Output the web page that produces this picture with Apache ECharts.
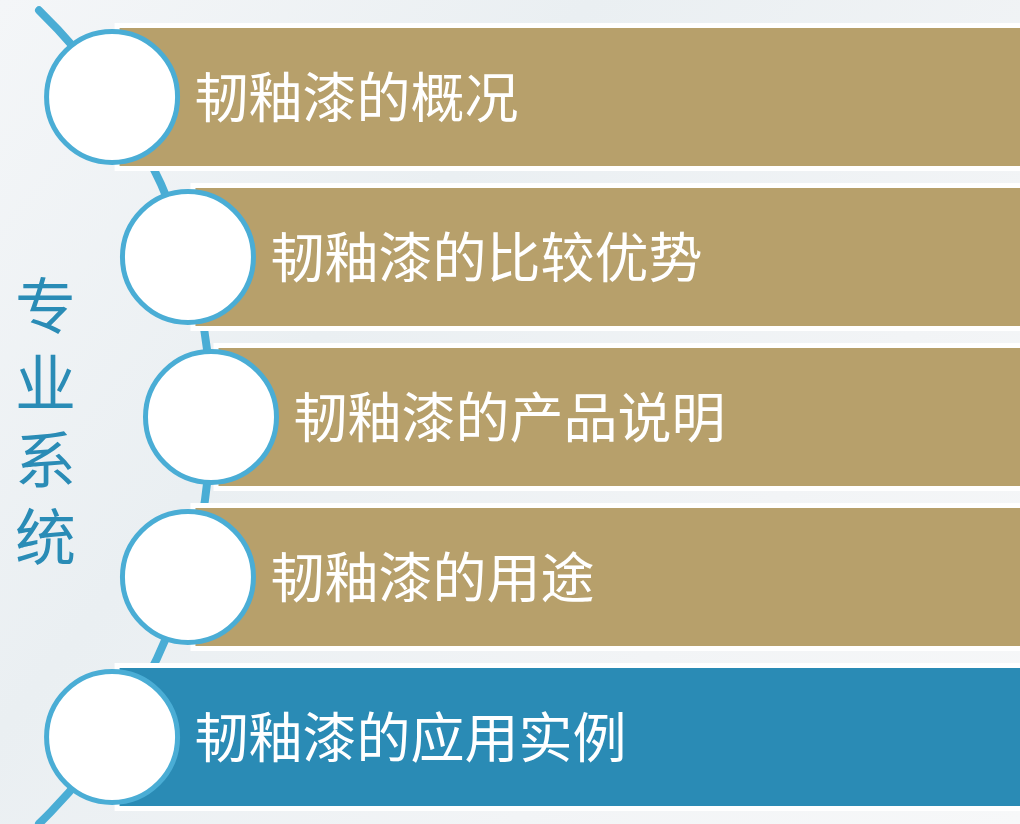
<!DOCTYPE html>
<html>
<head>
<meta charset="utf-8">
<script src="https://cdn.jsdelivr.net/npm/echarts@6/dist/echarts.min.js"></script>
<style>
html,body{margin:0;padding:0;}
#main{width:1020px;height:824px;}
</style>
</head>
<body>
<div id="main"></div>
<script>
// ---- data ----
var topics = ['韧釉漆的概况', '韧釉漆的比较优势', '韧釉漆的产品说明', '韧釉漆的用途', '韧釉漆的应用实例'];
var highlightIndex = 4;
var sideTitle = ['专', '业', '系', '统'];

// ---- layout (pixels / axis units) ----
var W = 1020;
var overhang = 30;         // bars run past the right edge
var rowGap = 160;          // px between category centres
var arcCx = -356;          // centre of the guiding arc (x-axis units)
var arcR = 567;            // radius of the guiding arc
var midIndex = (topics.length - 1) / 2;
var circleX = topics.map(function (t, i) {
  var dy = (i - midIndex) * rowGap;
  return arcCx + Math.sqrt(arcR * arcR - dy * dy);
});
var barStart = circleX.map(function (x) { return x + 2.5; });
var barLen = barStart.map(function (x) { return W + overhang - x; });

var TAN = '#B7A06B', BLUE = '#2A8BB5', RING = '#4AADD5';

var chart = echarts.init(document.getElementById('main'));
chart.setOption({
  animation: false,
  backgroundColor: {
    type: 'linear', x: 0, y: 0, x2: 1, y2: 1,
    colorStops: [
      { offset: 0, color: '#f4f6f8' },
      { offset: 0.35, color: '#eaeff2' },
      { offset: 0.7, color: '#f2f4f6' },
      { offset: 1, color: '#f7f8f9' }
    ]
  },
  title: {
    text: sideTitle.join('\n'),
    left: 10, top: 262,
    textStyle: {
      color: '#2A8CB6', fontSize: 61, lineHeight: 77,
      fontFamily: 'Noto Sans CJK SC', fontWeight: 'normal'
    }
  },
  grid: { left: 0, right: 0, top: 17, bottom: 7 },
  xAxis: { type: 'value', min: 0, max: W, show: false },
  yAxis: { type: 'category', data: topics, inverse: true, show: false },
  series: [
    {
      type: 'custom',
      z: 1, clip: false,
      data: [[0, 0]],
      renderItem: function (params, api) {
        var c = api.coord([arcCx, midIndex]);
        var r = api.coord([arcCx + arcR, midIndex])[0] - c[0];
        return {
          type: 'arc',
          shape: { cx: c[0], cy: c[1], r: r, startAngle: -0.80, endAngle: 0.80, clockwise: true },
          style: { fill: null, stroke: RING, lineWidth: 8, lineCap: 'round' }
        };
      }
    },
    {
      type: 'bar', stack: 'row', z: 2, clip: false,
      barWidth: 148, silent: true,
      itemStyle: { color: 'transparent' },
      data: barStart
    },
    {
      type: 'bar', stack: 'row', z: 2, clip: false,
      barWidth: 148,
      itemStyle: {
        color: function (p) { return p.dataIndex === highlightIndex ? BLUE : TAN; },
        borderColor: '#ffffff', borderWidth: 5
      },
      label: {
        show: true, position: 'insideLeft', distance: 80,
        formatter: '{b}', color: '#ffffff', fontSize: 54,
        fontFamily: 'Noto Sans CJK SC'
      },
      data: barLen
    },
    {
      type: 'scatter', z: 3, clip: false,
      symbol: 'circle', symbolSize: 131,
      itemStyle: { color: '#ffffff', borderColor: RING, borderWidth: 5, opacity: 1 },
      data: circleX.map(function (x, i) { return [x, i]; })
    }
  ]
});
</script>
</body>
</html>
